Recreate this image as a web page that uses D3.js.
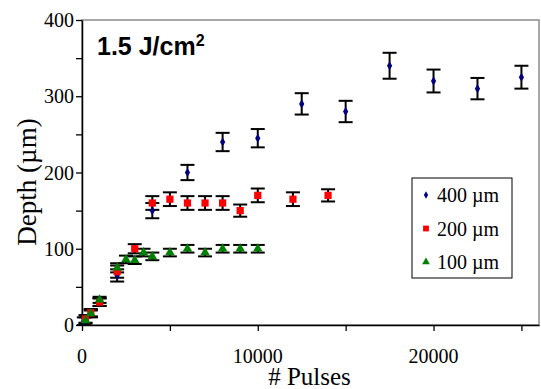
<!DOCTYPE html>
<html>
<head>
<meta charset="utf-8">
<script src="https://cdn.jsdelivr.net/npm/d3@7"></script>
<style>
  body { margin: 0; background: #fff; }
  svg { display: block; }
  text { font-family: "Liberation Serif", "Times New Roman", serif; fill: #000; }
</style>
</head>
<body>
<svg></svg>
<script>
var width = 541;
var height = 389;

// 400 um spot
var pulses400 = [100, 500, 1000, 2000, 4000, 6000, 8000, 10000, 12500, 15000, 17500, 20000, 22500, 25000];
var depth400 = [5, 15, 30, 65, 150, 200, 240, 245, 290, 280, 340, 320, 310, 325];
var err400 = [5, 5, 5, 8, 10, 10, 12, 12, 14, 14, 17, 15, 14, 15];

// 200 um spot
var pulses200 = [200, 500, 1000, 2000, 3000, 4000, 5000, 6000, 7000, 8000, 9000, 10000, 12000, 14000];
var depth200 = [8, 16, 30, 70, 100, 160, 165, 160, 160, 160, 150, 170, 165, 170];
var err200 = [5, 5, 5, 8, 6, 9, 9, 9, 9, 9, 8, 9, 9, 8];

// 100 um spot
var pulses100 = [200, 500, 1000, 2000, 2500, 3000, 3500, 4000, 5000, 6000, 7000, 8000, 9000, 10000];
var depth100 = [6, 15, 33, 75, 86, 85, 95, 90, 95, 100, 95, 100, 100, 100];
var err100 = [4, 4, 4, 6, 5, 5, 5, 5, 5, 5, 5, 5, 5, 5];

var xTicks = [0, 10000, 20000];
var yTicks = [0, 100, 200, 300, 400];

var series = [
  { name: '400 \u00b5m', color: '#000080', shape: d3.symbolDiamond, size: 24, x: pulses400, y: depth400, e: err400 },
  { name: '200 \u00b5m', color: '#ff0000', shape: d3.symbolSquare, size: 52, x: pulses200, y: depth200, e: err200 },
  { name: '100 \u00b5m', color: '#008000', shape: d3.symbolTriangle, size: 40, x: pulses100, y: depth100, e: err100 }
];

var plotLeft = 82, plotRight = 539, plotTop = 20, plotBottom = 325;

var xScale = d3.scaleLinear().domain([0, 26000]).range([plotLeft, plotRight]);
var yScale = d3.scaleLinear().domain([0, 400]).range([plotBottom, plotTop]);

var svg = d3.select('svg')
  .attr('width', width)
  .attr('height', height);

// plot frame (top and right in gray)
svg.append('rect')
  .attr('x', plotLeft).attr('y', plotTop)
  .attr('width', plotRight - plotLeft).attr('height', plotBottom - plotTop)
  .attr('fill', 'none')
  .attr('stroke', '#8c8c8c')
  .attr('stroke-width', 1.5);

// ticks (major and minor alike)
var yAxisTicks = d3.axisLeft(yScale).tickValues(d3.range(0, 401, 50)).tickSize(6).tickSizeOuter(0).tickFormat('');
var xAxisTicks = d3.axisBottom(xScale).tickValues(d3.range(0, 26001, 5000)).tickSize(6).tickSizeOuter(0).tickFormat('');

var gy = svg.append('g').attr('transform', `translate(${plotLeft},0)`).call(yAxisTicks);
var gx = svg.append('g').attr('transform', `translate(0,${plotBottom})`).call(xAxisTicks);
[gx, gy].forEach(function (g) {
  g.select('.domain').attr('stroke', '#000').attr('stroke-width', 1.5);
  g.selectAll('.tick line').attr('stroke', '#000').attr('stroke-width', 1.3);
});

// tick labels
svg.append('g').selectAll('text')
  .data(yTicks)
  .enter()
  .append('text')
    .attr('x', plotLeft - 8)
    .attr('y', d => yScale(d))
    .attr('dy', '0.35em')
    .style('text-anchor', 'end')
    .style('font-size', '20px')
    .text(d => d);

svg.append('g').selectAll('text')
  .data(xTicks)
  .enter()
  .append('text')
    .attr('x', d => xScale(d))
    .attr('y', 363)
    .style('text-anchor', 'middle')
    .style('font-size', '20px')
    .text(d => d);

// error bars
series.forEach(function (s) {
  var pts = s.x.map((x, i) => ({ x: x, y: s.y[i], e: s.e[i] }));
  var eb = svg.append('g').selectAll('g').data(pts).enter().append('g')
    .attr('stroke', '#000').attr('stroke-width', 2);
  eb.append('line')
    .attr('x1', d => xScale(d.x)).attr('x2', d => xScale(d.x))
    .attr('y1', d => yScale(d.y - d.e)).attr('y2', d => yScale(d.y + d.e));
  eb.append('line')
    .attr('x1', d => xScale(d.x) - 7).attr('x2', d => xScale(d.x) + 7)
    .attr('y1', d => yScale(d.y + d.e)).attr('y2', d => yScale(d.y + d.e));
  eb.append('line')
    .attr('x1', d => xScale(d.x) - 7).attr('x2', d => xScale(d.x) + 7)
    .attr('y1', d => yScale(d.y - d.e)).attr('y2', d => yScale(d.y - d.e));
});

// points
series.forEach(function (s) {
  var pts = s.x.map((x, i) => ({ x: x, y: s.y[i] }));
  svg.append('g').selectAll('path')
    .data(pts)
    .enter()
    .append('path')
      .attr('d', d3.symbol().type(s.shape).size(s.size))
      .attr('transform', d => `translate(${xScale(d.x)},${yScale(d.y)})`)
      .attr('fill', s.color);
});

// legend
var legend = svg.append('g');
legend.append('rect')
  .attr('x', 412).attr('y', 178)
  .attr('width', 100).attr('height', 100)
  .attr('fill', '#fff')
  .attr('stroke', '#000')
  .attr('stroke-width', 1);

series.forEach(function (s, i) {
  var ly = 195 + i * 33.5;
  legend.append('path')
    .attr('d', d3.symbol().type(s.shape).size(s.size * 0.65))
    .attr('transform', `translate(426,${ly})`)
    .attr('fill', s.color);
  legend.append('text')
    .attr('x', 437)
    .attr('y', ly)
    .attr('dy', '0.35em')
    .style('font-size', '20px')
    .text(s.name);
});

// title
var title = svg.append('text')
  .attr('x', 97)
  .attr('y', 55)
  .style('font-family', '"Liberation Sans", Arial, sans-serif')
  .style('font-weight', 'bold')
  .style('font-size', '25px')
  .text('1.5 J/cm');
title.append('tspan')
  .attr('dy', '-9')
  .style('font-size', '16px')
  .text('2');

// x-axis label
svg.append('text')
  .attr('x', 309.5)
  .attr('y', 385)
  .style('text-anchor', 'middle')
  .style('font-size', '25px')
  .text('# Pulses');

// y-axis label
svg.append('text')
  .attr('transform', 'rotate(-90)')
  .attr('x', -182)
  .attr('y', 36)
  .style('text-anchor', 'middle')
  .style('font-size', '27px')
  .text('Depth (\u00b5m)');
</script>
</body>
</html>
